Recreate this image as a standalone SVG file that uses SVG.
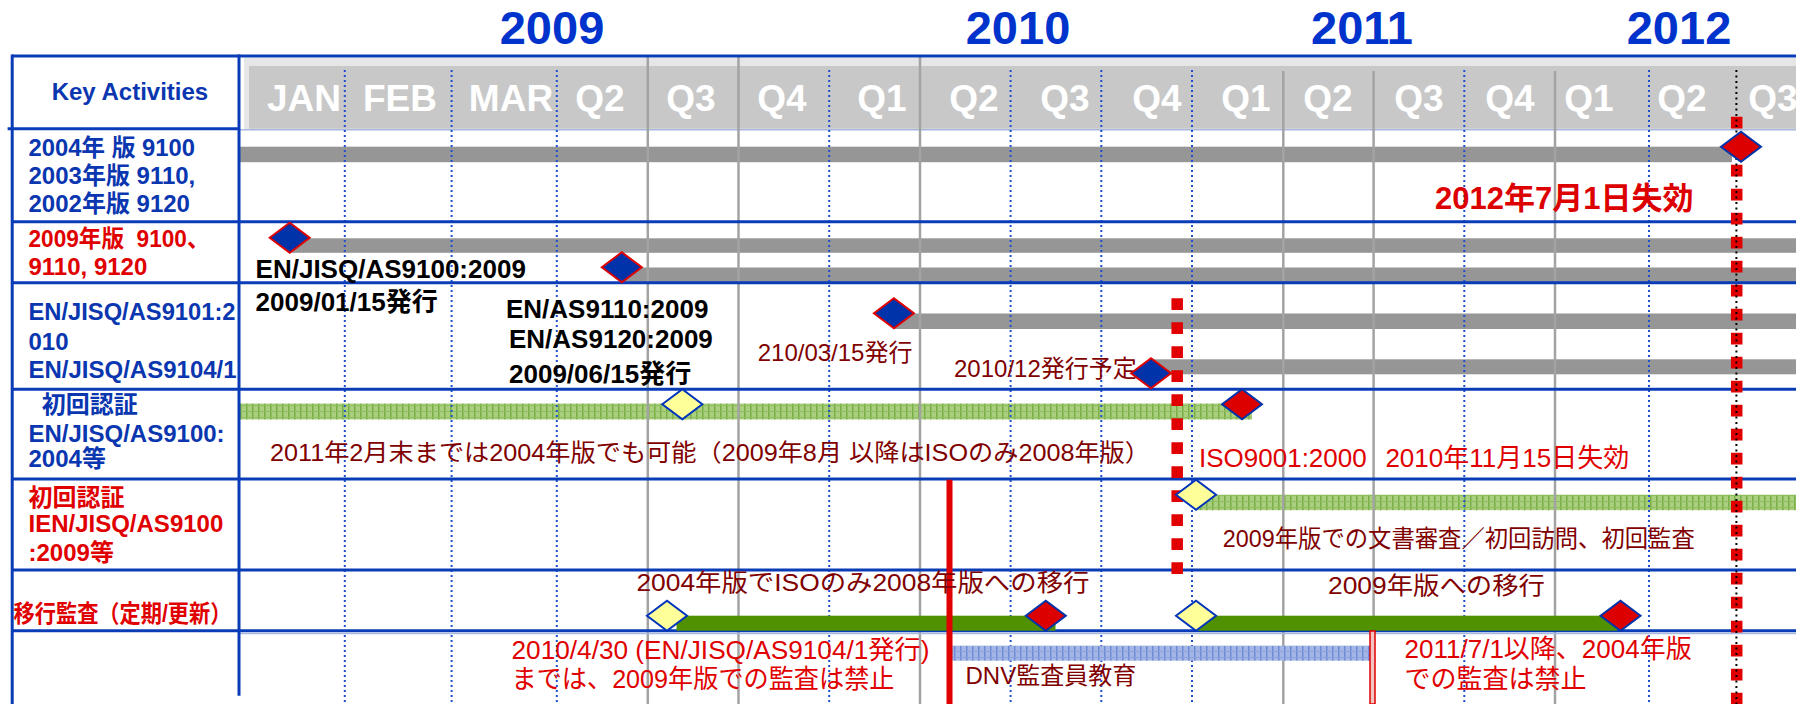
<svg xmlns="http://www.w3.org/2000/svg" width="1796" height="704" viewBox="0 0 1796 704">
<style>
text{font-family:"Liberation Sans","Noto Sans CJK JP",sans-serif}
.yr{font-weight:bold;font-size:47px;fill:#0033cc;text-anchor:middle}
.mo{font-weight:bold;font-size:37px;fill:#ffffff;text-anchor:middle}
.lb{font-weight:bold;font-size:24px;fill:#0a36b0}
.lr{font-weight:bold;font-size:24px;fill:#e00000}
.bk{font-weight:bold;font-size:26px;fill:#000000}
.dr{font-size:24px;fill:#800000}
.rd{font-size:26px;fill:#e00000}
.hl{stroke:#0a3cb8;stroke-width:3}
.dot{stroke:#1f4fcf;stroke-width:2;stroke-dasharray:2 3}
.gv{stroke:#a3a3a3;stroke-width:2.5}
.gbar{fill:#969696}
.dB{fill:#0033aa;stroke:#e00000;stroke-width:2}
.dR{fill:#dd0000;stroke:#0033aa;stroke-width:2}
.dY{fill:#ffff99;stroke:#0033bb;stroke-width:2}
</style>
<defs>
<path id="dm" d="M-20,0 L0,-15 L20,0 L0,15 Z"/>
<pattern id="gh" width="6" height="6" patternUnits="userSpaceOnUse">
<rect width="6" height="6" fill="#a9cf7f"/>
<rect width="1.5" height="6" fill="#78ad45"/>
<rect y="3" width="6" height="1" fill="#8dbd5c"/>
</pattern>
<pattern id="bh" width="6" height="6" patternUnits="userSpaceOnUse">
<rect width="6" height="6" fill="#a3b6e6"/>
<rect width="1.5" height="6" fill="#6d8ad6"/>
<rect y="3" width="6" height="1" fill="#8aa1de"/>
</pattern>
</defs>
<rect width="1796" height="704" fill="#ffffff"/>

<g id="years">
<text class="yr" x="552" y="43.5">2009</text>
<text class="yr" x="1018" y="43.5">2010</text>
<text class="yr" x="1362" y="43.5">2011</text>
<text class="yr" x="1679" y="43.5">2012</text>
</g>

<g id="header">
<rect x="244" y="58" width="1560" height="71" fill="#e6e6e6"/>
<rect x="249" y="66" width="1560" height="62.7" fill="#c8c8c8"/>
<line x1="239" y1="129.8" x2="1796" y2="129.8" stroke="#a8b8e0" stroke-width="1.5"/>
</g>

<g id="bars">
<rect class="gbar" x="239" y="146.7" width="1493" height="15.5"/>
<rect class="gbar" x="290" y="238.3" width="1506" height="14.5"/>
<rect class="gbar" x="622" y="267.5" width="1174" height="15"/>
<rect class="gbar" x="894" y="313.5" width="902" height="15.5"/>
<rect class="gbar" x="1151" y="359.3" width="645" height="15"/>
<rect x="239" y="403.5" width="1013" height="16" fill="url(#gh)"/>
<rect x="1196" y="494.7" width="600" height="15.5" fill="url(#gh)"/>
</g>

<g id="grid">
<line class="dot" x1="344.8" y1="70" x2="344.8" y2="704"/>
<line class="dot" x1="451.6" y1="70" x2="451.6" y2="704"/>
<line class="dot" x1="556.8" y1="70" x2="556.8" y2="704"/>
<line class="dot" x1="829.2" y1="70" x2="829.2" y2="704"/>
<line class="dot" x1="1010.6" y1="70" x2="1010.6" y2="704"/>
<line class="dot" x1="1101.3" y1="70" x2="1101.3" y2="704"/>
<line class="dot" x1="1192" y1="70" x2="1192" y2="704"/>
<line class="dot" x1="1464.3" y1="70" x2="1464.3" y2="704"/>
<line class="dot" x1="1649" y1="70" x2="1649" y2="704"/>
<line class="gv" x1="647.8" y1="56" x2="647.8" y2="704"/>
<line class="gv" x1="738.5" y1="56" x2="738.5" y2="704"/>
<line class="gv" x1="920" y1="56" x2="920" y2="704"/>
<line class="gv" x1="1283.3" y1="71" x2="1283.3" y2="704"/>
<line class="gv" x1="1373.6" y1="71" x2="1373.6" y2="704"/>
<line class="gv" x1="1555" y1="71" x2="1555" y2="704"/>
</g>

<g id="months">
<text class="mo" x="304" y="111">JAN</text>
<text class="mo" x="400" y="111">FEB</text>
<text class="mo" x="511" y="111">MAR</text>
<text class="mo" x="600" y="111">Q2</text>
<text class="mo" x="691" y="111">Q3</text>
<text class="mo" x="782" y="111">Q4</text>
<text class="mo" x="882" y="111">Q1</text>
<text class="mo" x="974" y="111">Q2</text>
<text class="mo" x="1065" y="111">Q3</text>
<text class="mo" x="1157" y="111">Q4</text>
<text class="mo" x="1246" y="111">Q1</text>
<text class="mo" x="1328" y="111">Q2</text>
<text class="mo" x="1419" y="111">Q3</text>
<text class="mo" x="1510" y="111">Q4</text>
<text class="mo" x="1589" y="111">Q1</text>
<text class="mo" x="1682" y="111">Q2</text>
<text class="mo" x="1773" y="111">Q3</text>
</g>

<g id="table">
<line class="hl" x1="12" y1="56" x2="1796" y2="56"/>
<line class="hl" x1="7.6" y1="128.7" x2="239" y2="128.7"/>
<line class="hl" x1="12" y1="221.7" x2="1796" y2="221.7"/>
<line class="hl" x1="12" y1="282.7" x2="1796" y2="282.7"/>
<line class="hl" x1="12" y1="389.3" x2="1796" y2="389.3"/>
<line class="hl" x1="12" y1="479" x2="1796" y2="479"/>
<line class="hl" x1="12" y1="570" x2="1796" y2="570"/>
<line class="hl" x1="12" y1="630.7" x2="1796" y2="630.7"/>
<line x1="239" y1="633.5" x2="1796" y2="633.5" stroke="#a8b8e0" stroke-width="1.5"/>
<line class="hl" x1="12.2" y1="54.5" x2="12.2" y2="704"/>
<line class="hl" x1="239" y1="54.5" x2="239" y2="695.7"/>
</g>

<g id="bars2">
<rect x="676.5" y="615.7" width="379" height="15" fill="#4f9100"/>
<rect x="1196" y="615.7" width="421" height="15" fill="#4f9100"/>
<rect x="952" y="645.7" width="420" height="15" fill="url(#bh)"/>
</g>

<g id="markers">
<line x1="949.5" y1="479.7" x2="949.5" y2="704" stroke="#e00000" stroke-width="6"/>
<rect x="1370" y="631" width="5" height="73" fill="#f3c4c4" stroke="#e00000" stroke-width="1.5"/>
<line x1="1177.2" y1="298.3" x2="1177.2" y2="574" stroke="#e00000" stroke-width="11.5" stroke-dasharray="11.7 12.3"/>
<line x1="1736.7" y1="116.7" x2="1736.7" y2="704" stroke="#e00000" stroke-width="11.5" stroke-dasharray="11.7 12.3"/>
<line x1="1736.4" y1="70" x2="1736.4" y2="704" stroke="#000000" stroke-width="2" stroke-dasharray="2 3.5"/>
</g>

<g id="diamonds">
<use href="#dm" class="dB" x="289.7" y="237.7"/>
<use href="#dm" class="dB" x="621.8" y="267.3"/>
<use href="#dm" class="dB" x="893.9" y="313.3"/>
<use href="#dm" class="dB" x="1151" y="373.3"/>
<use href="#dm" class="dR" x="1741" y="146.7"/>
<use href="#dm" class="dY" x="682.3" y="404.3"/>
<use href="#dm" class="dR" x="1242" y="404.3"/>
<use href="#dm" class="dY" x="1196" y="494.7"/>
<use href="#dm" class="dY" x="667" y="615.7"/>
<use href="#dm" class="dR" x="1045.8" y="615.7"/>
<use href="#dm" class="dY" x="1196" y="615.7"/>
<use href="#dm" class="dR" x="1620.5" y="615.7"/>
</g>

<g id="labels">
<text class="lb" x="51.7" y="100" font-size="24.5">Key Activities</text>
<text class="lb" x="28.5" y="155.7" textLength="166.5" lengthAdjust="spacingAndGlyphs">2004年 版 9100</text>
<text class="lb" x="28.5" y="184">2003年版 9110,</text>
<text class="lb" x="28.5" y="212.3">2002年版 9120</text>
<text class="lr" x="28.5" y="246.7" textLength="181" lengthAdjust="spacingAndGlyphs">2009年版&#160;&#160;9100、</text>
<text class="lr" x="28.5" y="275">9110, 9120</text>
<text class="lb" x="28.5" y="320" textLength="207" lengthAdjust="spacingAndGlyphs">EN/JISQ/AS9101:2</text>
<text class="lb" x="28.5" y="350">010</text>
<text class="lb" x="28.5" y="378.3">EN/JISQ/AS9104/1</text>
<text class="lb" x="41.7" y="413.3">初回認証</text>
<text class="lb" x="28.5" y="441.7">EN/JISQ/AS9100:</text>
<text class="lb" x="28.5" y="467.3">2004等</text>
<text class="lr" x="28.5" y="505.7">初回認証</text>
<text class="lr" x="28.5" y="532.3">IEN/JISQ/AS9100</text>
<text class="lr" x="28.5" y="560.7">:2009等</text>
<text class="lr" x="13.5" y="622" font-size="22" textLength="218" lengthAdjust="spacingAndGlyphs">移行監査（定期/更新）</text>
</g>

<g id="notes">
<text class="bk" x="255.6" y="277.7">EN/JISQ/AS9100:2009</text>
<text class="bk" x="255.6" y="311">2009/01/15発行</text>
<text class="bk" x="506" y="318.3">EN/AS9110:2009</text>
<text class="bk" x="509" y="348.3">EN/AS9120:2009</text>
<text class="bk" x="509" y="383.3">2009/06/15発行</text>
<text class="dr" x="757.7" y="360.7">210/03/15発行</text>
<text class="dr" x="954" y="376.7">2010/12発行予定</text>
<text class="dr" x="270" y="460.7" font-size="25" textLength="880" lengthAdjust="spacingAndGlyphs">2011年2月末までは2004年版でも可能（2009年8月 以降はISOのみ2008年版）</text>
<text style="font-weight:bold;font-size:31px;fill:#dd0000" x="1435" y="209">2012年7月1日失効</text>
<text class="rd" x="1199" y="466.5">ISO9001:2000</text>
<text class="rd" x="1385.4" y="466.5">2010年11月15日失効</text>
<text class="dr" x="1222.8" y="547.3" font-size="23.5" textLength="472" lengthAdjust="spacingAndGlyphs">2009年版での文書審査／初回訪問、初回監査</text>
<text class="dr" x="636.4" y="591" font-size="26" textLength="453" lengthAdjust="spacingAndGlyphs">2004年版でISOのみ2008年版への移行</text>
<text class="dr" x="1328" y="594" font-size="26.5" textLength="217" lengthAdjust="spacingAndGlyphs">2009年版への移行</text>
<text class="rd" x="511.5" y="659" textLength="418" lengthAdjust="spacingAndGlyphs">2010/4/30 (EN/JISQ/AS9104/1発行)</text>
<text class="rd" x="511.5" y="688" font-size="25.3" textLength="383" lengthAdjust="spacingAndGlyphs">までは、2009年版での監査は禁止</text>
<text class="dr" x="965.5" y="684">DNV監査員教育</text>
<text class="rd" x="1404.6" y="658">2011/7/1以降、2004年版</text>
<text class="rd" x="1404.6" y="688" font-size="25.7">での監査は禁止</text>
</g>
</svg>
